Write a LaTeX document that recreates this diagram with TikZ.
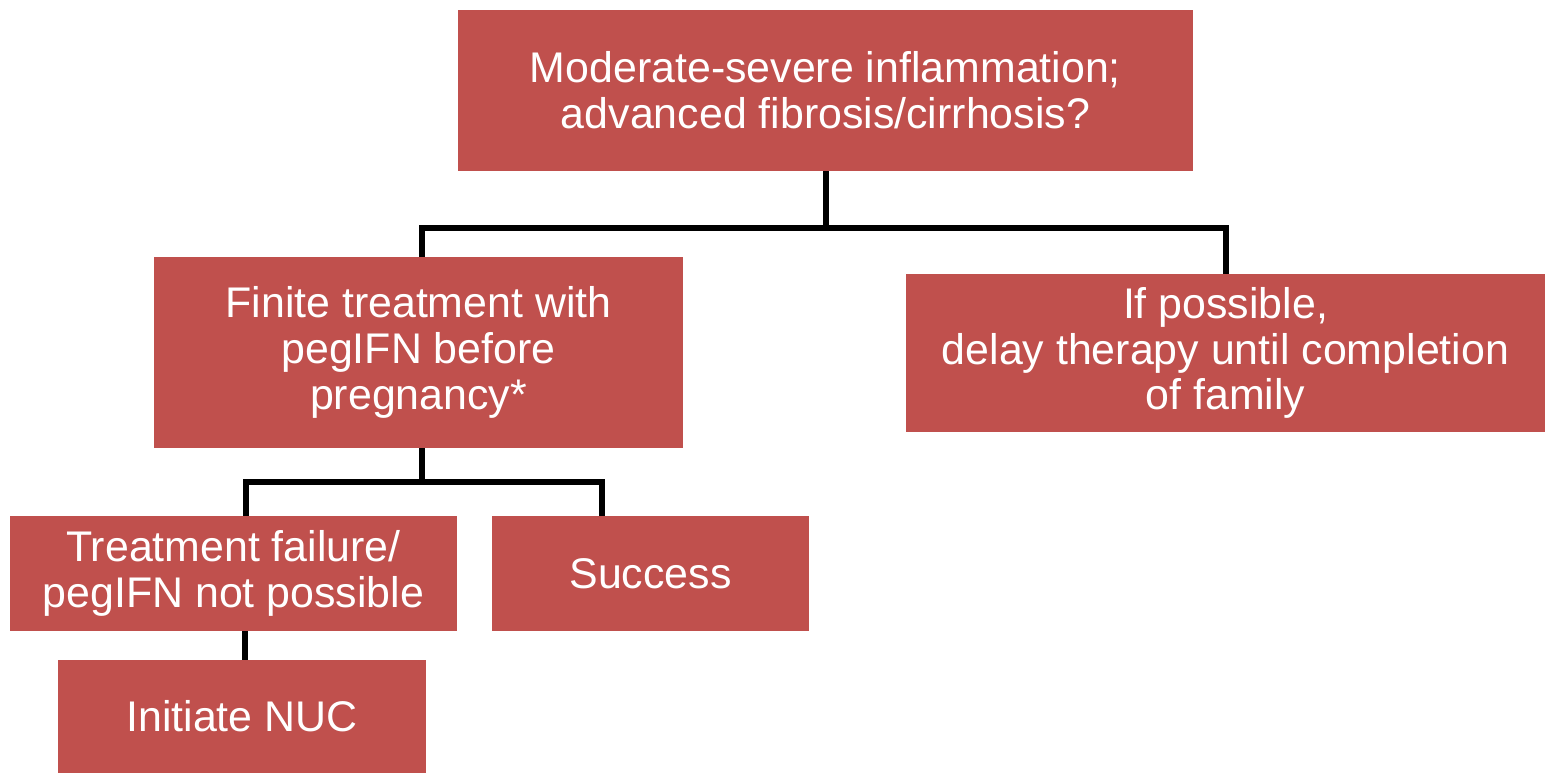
\documentclass[tikz,border=0pt]{standalone}
\usepackage{fontspec}
\setmainfont{Liberation Sans}
\definecolor{boxred}{HTML}{C0504D}

\begin{document}
\begin{tikzpicture} [
  box/.style={fill=boxred, text=white, align=center, inner sep=0pt,
    font=\fontsize{24.4}{26}\selectfont},
  link/.style={black, line width=0.12cm}
]
\useasboundingbox (0,0) rectangle (30.92,-15.48);
% boxes
\node[box, minimum width=14.7cm, minimum height=3.22cm] (top) at (16.51,-1.81)
  {Moderate-severe inflammation;\\advanced fibrosis/cirrhosis?};
\node[box, minimum width=10.58cm, minimum height=3.82cm] (fin) at (8.37,-7.05)
  {Finite treatment with\\pegIFN before\\pregnancy*};
\node[box, minimum width=12.78cm, minimum height=3.16cm] (pos) at (24.51,-7.06)
  {If possible,\\delay therapy until completion\\of family};
\node[box, minimum width=8.94cm, minimum height=2.30cm] (fail) at (4.67,-11.47)
  {Treatment failure/\\pegIFN not possible};
\node[box, minimum width=6.34cm, minimum height=2.30cm] (succ) at (13.01,-11.47)
  {Success};
\node[box, minimum width=7.36cm, minimum height=2.26cm] (nuc) at (4.84,-14.33)
  {Initiate NUC};
% connectors
\coordinate (j1) at (top.south |- 0,-4.56);
\coordinate (fintop) at (fin.north -| 8.44,0);
\draw[link] (top.south) -- (j1);
\draw[link] (fintop) |- (j1) -| (pos.north);
\coordinate (j2) at (fin.south -| 8.44,0);
\coordinate (j2b) at (8.44,-9.64);
\coordinate (failtop) at (fail.north -| 4.91,0);
\coordinate (succtop) at (succ.north -| 12.04,0);
\draw[link] (j2) -- (j2b);
\draw[link] (failtop) |- (j2b) -| (succtop);
\coordinate (failbot) at (fail.south -| 4.90,0);
\coordinate (nuctop) at (nuc.north -| 4.90,0);
\draw[link] (failbot) -- (nuctop);
\end{tikzpicture}
\end{document}
